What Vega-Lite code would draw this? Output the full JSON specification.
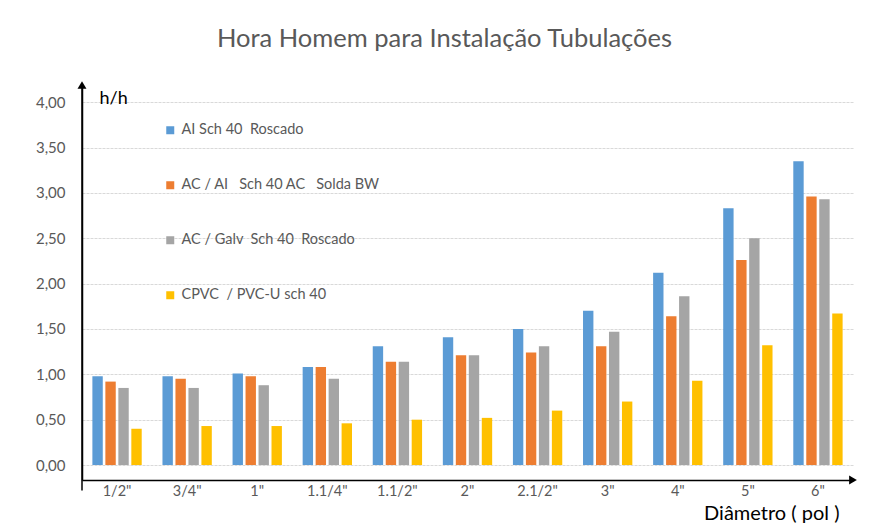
{
  "$schema": "https://vega.github.io/schema/vega-lite/v6.json",
  "width": 771,
  "height": 395,
  "autosize": "none",
  "padding": {"left": 82, "top": 85, "right": 22, "bottom": 49},
  "config": {
    "locale": {"number": {"decimal": ",", "thousands": ".", "grouping": [3], "currency": ["R$", ""]}},
    "view": {"stroke": null},
    "font": "Lato"
  },
  "title": {
    "text": "Hora Homem para Instalação Tubulações",
    "font": "Lato",
    "fontSize": 25.5,
    "fontWeight": "normal",
    "color": "#595959",
    "anchor": "middle",
    "offset": 29,
    "dx": -23
  },
  "data": {
    "values": [
      {"d": "1/2\"", "s": "AI Sch 40\u00a0\u00a0Roscado", "v": 0.98},
      {"d": "1/2\"", "s": "AC / AI\u00a0\u00a0\u00a0Sch 40 AC\u00a0\u00a0\u00a0Solda BW", "v": 0.92},
      {"d": "1/2\"", "s": "AC / Galv\u00a0\u00a0Sch 40\u00a0\u00a0Roscado", "v": 0.85},
      {"d": "1/2\"", "s": "CPVC\u00a0\u00a0/ PVC-U sch 40", "v": 0.40},
      {"d": "3/4\"", "s": "AI Sch 40\u00a0\u00a0Roscado", "v": 0.98},
      {"d": "3/4\"", "s": "AC / AI\u00a0\u00a0\u00a0Sch 40 AC\u00a0\u00a0\u00a0Solda BW", "v": 0.95},
      {"d": "3/4\"", "s": "AC / Galv\u00a0\u00a0Sch 40\u00a0\u00a0Roscado", "v": 0.85},
      {"d": "3/4\"", "s": "CPVC\u00a0\u00a0/ PVC-U sch 40", "v": 0.43},
      {"d": "1\"", "s": "AI Sch 40\u00a0\u00a0Roscado", "v": 1.01},
      {"d": "1\"", "s": "AC / AI\u00a0\u00a0\u00a0Sch 40 AC\u00a0\u00a0\u00a0Solda BW", "v": 0.98},
      {"d": "1\"", "s": "AC / Galv\u00a0\u00a0Sch 40\u00a0\u00a0Roscado", "v": 0.88},
      {"d": "1\"", "s": "CPVC\u00a0\u00a0/ PVC-U sch 40", "v": 0.43},
      {"d": "1.1/4\"", "s": "AI Sch 40\u00a0\u00a0Roscado", "v": 1.08},
      {"d": "1.1/4\"", "s": "AC / AI\u00a0\u00a0\u00a0Sch 40 AC\u00a0\u00a0\u00a0Solda BW", "v": 1.08},
      {"d": "1.1/4\"", "s": "AC / Galv\u00a0\u00a0Sch 40\u00a0\u00a0Roscado", "v": 0.95},
      {"d": "1.1/4\"", "s": "CPVC\u00a0\u00a0/ PVC-U sch 40", "v": 0.46},
      {"d": "1.1/2\"", "s": "AI Sch 40\u00a0\u00a0Roscado", "v": 1.31},
      {"d": "1.1/2\"", "s": "AC / AI\u00a0\u00a0\u00a0Sch 40 AC\u00a0\u00a0\u00a0Solda BW", "v": 1.14},
      {"d": "1.1/2\"", "s": "AC / Galv\u00a0\u00a0Sch 40\u00a0\u00a0Roscado", "v": 1.14},
      {"d": "1.1/2\"", "s": "CPVC\u00a0\u00a0/ PVC-U sch 40", "v": 0.50},
      {"d": "2\"", "s": "AI Sch 40\u00a0\u00a0Roscado", "v": 1.41},
      {"d": "2\"", "s": "AC / AI\u00a0\u00a0\u00a0Sch 40 AC\u00a0\u00a0\u00a0Solda BW", "v": 1.21},
      {"d": "2\"", "s": "AC / Galv\u00a0\u00a0Sch 40\u00a0\u00a0Roscado", "v": 1.21},
      {"d": "2\"", "s": "CPVC\u00a0\u00a0/ PVC-U sch 40", "v": 0.52},
      {"d": "2.1/2\"", "s": "AI Sch 40\u00a0\u00a0Roscado", "v": 1.50},
      {"d": "2.1/2\"", "s": "AC / AI\u00a0\u00a0\u00a0Sch 40 AC\u00a0\u00a0\u00a0Solda BW", "v": 1.24},
      {"d": "2.1/2\"", "s": "AC / Galv\u00a0\u00a0Sch 40\u00a0\u00a0Roscado", "v": 1.31},
      {"d": "2.1/2\"", "s": "CPVC\u00a0\u00a0/ PVC-U sch 40", "v": 0.60},
      {"d": "3\"", "s": "AI Sch 40\u00a0\u00a0Roscado", "v": 1.70},
      {"d": "3\"", "s": "AC / AI\u00a0\u00a0\u00a0Sch 40 AC\u00a0\u00a0\u00a0Solda BW", "v": 1.31},
      {"d": "3\"", "s": "AC / Galv\u00a0\u00a0Sch 40\u00a0\u00a0Roscado", "v": 1.47},
      {"d": "3\"", "s": "CPVC\u00a0\u00a0/ PVC-U sch 40", "v": 0.70},
      {"d": "4\"", "s": "AI Sch 40\u00a0\u00a0Roscado", "v": 2.12},
      {"d": "4\"", "s": "AC / AI\u00a0\u00a0\u00a0Sch 40 AC\u00a0\u00a0\u00a0Solda BW", "v": 1.64},
      {"d": "4\"", "s": "AC / Galv\u00a0\u00a0Sch 40\u00a0\u00a0Roscado", "v": 1.86},
      {"d": "4\"", "s": "CPVC\u00a0\u00a0/ PVC-U sch 40", "v": 0.93},
      {"d": "5\"", "s": "AI Sch 40\u00a0\u00a0Roscado", "v": 2.83},
      {"d": "5\"", "s": "AC / AI\u00a0\u00a0\u00a0Sch 40 AC\u00a0\u00a0\u00a0Solda BW", "v": 2.26},
      {"d": "5\"", "s": "AC / Galv\u00a0\u00a0Sch 40\u00a0\u00a0Roscado", "v": 2.50},
      {"d": "5\"", "s": "CPVC\u00a0\u00a0/ PVC-U sch 40", "v": 1.32},
      {"d": "6\"", "s": "AI Sch 40\u00a0\u00a0Roscado", "v": 3.35},
      {"d": "6\"", "s": "AC / AI\u00a0\u00a0\u00a0Sch 40 AC\u00a0\u00a0\u00a0Solda BW", "v": 2.96},
      {"d": "6\"", "s": "AC / Galv\u00a0\u00a0Sch 40\u00a0\u00a0Roscado", "v": 2.93},
      {"d": "6\"", "s": "CPVC\u00a0\u00a0/ PVC-U sch 40", "v": 1.67}
    ]
  },
  "layer": [
    {
      "mark": {"type": "bar"},
      "encoding": {
        "x": {
          "field": "d",
          "type": "nominal",
          "sort": null,
          "scale": {"paddingInner": 0, "paddingOuter": 0},
          "axis": {
            "title": "Diâmetro ( pol )",
            "titleColor": "#000000",
            "titleFont": "Lato",
            "titleFontSize": 20,
            "titleFontWeight": "normal",
            "titleAnchor": "end",
            "titleAlign": "right",
            "titleX": 757,
            "titlePadding": 6,
            "labelAngle": 0,
            "labelColor": "#595959",
            "labelFont": "Lato",
            "labelFontSize": 14.5,
            "labelPadding": 4,
            "ticks": false,
            "domain": true,
            "domainColor": "#000000",
            "domainWidth": 1.5,
            "grid": false
          }
        },
        "xOffset": {
          "field": "s",
          "type": "nominal",
          "sort": null,
          "scale": {"paddingInner": 0.2, "paddingOuter": 0.8}
        },
        "y": {
          "field": "v",
          "type": "quantitative",
          "scale": {"domain": [-0.165, 4.19], "nice": false, "zero": false},
          "axis": {
            "title": "h/h",
            "titleAngle": 0,
            "titleX": 17,
            "titleY": 18,
            "titleAlign": "left",
            "titleBaseline": "alphabetic",
            "titleColor": "#000000",
            "titleFont": "Lato",
            "titleFontSize": 18,
            "titleFontWeight": "normal",
            "values": [0, 0.5, 1, 1.5, 2, 2.5, 3, 3.5, 4],
            "format": ".2f",
            "labelColor": "#595959",
            "labelFont": "Lato",
            "labelFontSize": 15,
            "labelPadding": 17,
            "ticks": false,
            "domain": true,
            "domainColor": "#000000",
            "domainWidth": 1.5,
            "grid": true,
            "gridColor": "#d9d9d9",
            "gridDash": [3, 1]
          }
        },
        "color": {
          "field": "s",
          "type": "nominal",
          "sort": null,
          "scale": {"range": ["#5B9BD5", "#ED7D31", "#A5A5A5", "#FFC000"]},
          "legend": {
            "orient": "none",
            "legendX": 81,
            "legendY": 38,
            "title": null,
            "direction": "vertical",
            "symbolType": "square",
            "symbolSize": 64,
            "symbolStrokeWidth": 0,
            "labelFont": "Lato",
            "labelFontSize": 14.5,
            "labelColor": "#595959",
            "labelOffset": 4,
            "labelLimit": 400,
            "rowPadding": 40
          }
        }
      }
    },
    {
      "data": {"values": [{}]},
      "mark": {"type": "rule", "color": "#000000", "strokeWidth": 1.5},
      "encoding": {
        "x": {"datum": "1/2\"", "bandPosition": 0},
        "y": {"datum": -0.28},
        "y2": {"datum": 4.19}
      }
    },
    {
      "data": {"values": [{}]},
      "mark": {"type": "point", "shape": "triangle-up", "filled": true, "color": "#000000", "size": 80, "opacity": 1},
      "encoding": {
        "x": {"datum": "1/2\"", "bandPosition": 0},
        "y": {"datum": 4.19}
      }
    },
    {
      "data": {"values": [{}]},
      "mark": {"type": "point", "shape": "triangle-right", "filled": true, "color": "#000000", "size": 80, "opacity": 1},
      "encoding": {
        "x": {"datum": "6\"", "bandPosition": 1},
        "y": {"datum": -0.165}
      }
    }
  ]
}
